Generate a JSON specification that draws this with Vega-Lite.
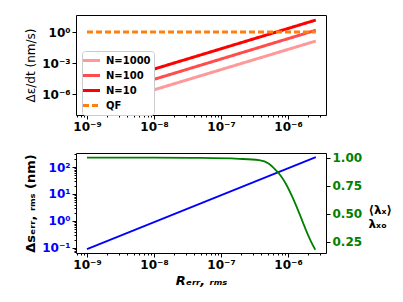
{
  "$schema": "https://vega.github.io/schema/vega-lite/v6.json",
  "background": "white",
  "padding": {"left": 24, "top": 14, "right": 5, "bottom": 5},
  "spacing": 18,
  "config": {
    "font": "DejaVu Sans",
    "view": {"stroke": "black", "strokeWidth": 1},
    "axis": {
      "grid": false,
      "domain": false,
      "tickColor": "black",
      "labelFont": "DejaVu Sans",
      "labelFontWeight": "bold",
      "labelFontSize": 12,
      "labelColor": "black",
      "titleFont": "DejaVu Sans",
      "titleColor": "black"
    }
  },
  "vconcat": [
    {
      "width": 250,
      "height": 100,
      "data": {
        "values": [
          {"r": 1e-9, "v": 2.8e-8, "series": "N=1000"},
          {"r": 2.6e-6, "v": 0.135, "series": "N=1000"},
          {"r": 1e-9, "v": 2.8e-7, "series": "N=100"},
          {"r": 2.6e-6, "v": 1.5, "series": "N=100"},
          {"r": 1e-9, "v": 2.8e-6, "series": "N=10"},
          {"r": 2.6e-6, "v": 14.5, "series": "N=10"},
          {"r": 1e-9, "v": 1, "series": "QF"},
          {"r": 2.6e-6, "v": 1, "series": "QF"}
        ]
      },
      "mark": {"type": "line", "clip": true},
      "encoding": {
        "x": {
          "field": "r", "type": "quantitative",
          "scale": {"type": "log", "domain": [6.85e-10, 3.69e-6], "nice": false},
          "axis": {
            "title": null,
            "values": [7e-10, 8e-10, 9e-10, 1e-9, 2e-9, 3e-9, 4e-9, 5e-9, 6e-9, 7e-9, 8e-9, 9e-9, 1e-8, 2e-8, 3e-8, 4e-8, 5e-8, 6e-8, 7e-8, 8e-8, 9e-8, 1e-7, 2e-7, 3e-7, 4e-7, 5e-7, 6e-7, 7e-7, 8e-7, 9e-7, 1e-6, 2e-6, 3e-6],
            "tickSize": {"condition": {"test": "abs(log(datum.value)/LN10 - round(log(datum.value)/LN10)) < 0.001", "value": 4}, "value": 2},
            "labelExpr": "abs(log(datum.value)/LN10 - round(log(datum.value)/LN10)) < 0.001 ? '10' + replace(replace(replace(replace(replace(replace(replace(replace(replace(replace(replace('' + round(log(datum.value)/LN10), '-', '⁻'), '0', '⁰'), '1', '¹'), '2', '²'), '3', '³'), '4', '⁴'), '5', '⁵'), '6', '⁶'), '7', '⁷'), '8', '⁸'), '9', '⁹') : ''"
          }
        },
        "y": {
          "field": "v", "type": "quantitative",
          "scale": {"type": "log", "domain": [9.3e-9, 44.7], "nice": false},
          "axis": {
            "values": [1e-6, 1e-3, 1],
            "tickSize": 4,
            "title": "Δε/dt (nm/s)",
            "titleFontSize": 12,
            "titleFontWeight": "normal",
            "labelExpr": "'10' + replace(replace(replace(replace(replace(replace(replace(replace(replace(replace(replace('' + round(log(datum.value)/LN10), '-', '⁻'), '0', '⁰'), '1', '¹'), '2', '²'), '3', '³'), '4', '⁴'), '5', '⁵'), '6', '⁶'), '7', '⁷'), '8', '⁸'), '9', '⁹')"
          }
        },
        "color": {
          "field": "series", "type": "nominal",
          "scale": {"domain": ["N=1000", "N=100", "N=10", "QF"], "range": ["#ff9999", "#ff4d4d", "#ff0000", "#ff7f0e"]},
          "legend": {
            "title": null, "orient": "none", "legendX": 6, "legendY": 36,
            "symbolType": "M-1.7,0H1.7", "symbolSize": 100, "labelFontWeight": "bold", "labelFontSize": 10,
            "labelOffset": 8,
            "fillColor": "white", "strokeColor": "#cccccc", "padding": 3, "cornerRadius": 3, "rowPadding": 2
          }
        },
        "strokeDash": {
          "field": "series", "type": "nominal",
          "scale": {"domain": ["N=1000", "N=100", "N=10", "QF"], "range": [[1, 0], [1, 0], [1, 0], [6, 3]]}
        },
        "strokeWidth": {
          "field": "series", "type": "nominal",
          "scale": {"domain": ["N=1000", "N=100", "N=10", "QF"], "range": [3, 3, 3, 2]}
        }
      }
    },
    {
      "width": 250,
      "height": 100,
      "layer": [
        {
          "data": {"values": [{"r": 1e-9, "s": 0.09}, {"r": 2.6e-6, "s": 234}]},
          "mark": {"type": "line", "color": "#0000ff", "strokeWidth": 1.8},
          "encoding": {
            "x": {
              "field": "r", "type": "quantitative",
              "scale": {"type": "log", "domain": [6.85e-10, 3.69e-6], "nice": false},
              "axis": {
                "title": "Rₑᵣᵣ, ᵣₘₛ",
                "titleFontSize": 13, "titleFontWeight": "bold", "titleFontStyle": "italic",
                "values": [7e-10, 8e-10, 9e-10, 1e-9, 2e-9, 3e-9, 4e-9, 5e-9, 6e-9, 7e-9, 8e-9, 9e-9, 1e-8, 2e-8, 3e-8, 4e-8, 5e-8, 6e-8, 7e-8, 8e-8, 9e-8, 1e-7, 2e-7, 3e-7, 4e-7, 5e-7, 6e-7, 7e-7, 8e-7, 9e-7, 1e-6, 2e-6, 3e-6],
                "tickSize": {"condition": {"test": "abs(log(datum.value)/LN10 - round(log(datum.value)/LN10)) < 0.001", "value": 4}, "value": 2},
                "labelExpr": "abs(log(datum.value)/LN10 - round(log(datum.value)/LN10)) < 0.001 ? '10' + replace(replace(replace(replace(replace(replace(replace(replace(replace(replace(replace('' + round(log(datum.value)/LN10), '-', '⁻'), '0', '⁰'), '1', '¹'), '2', '²'), '3', '³'), '4', '⁴'), '5', '⁵'), '6', '⁶'), '7', '⁷'), '8', '⁸'), '9', '⁹') : ''"
              }
            },
            "y": {
              "field": "s", "type": "quantitative",
              "scale": {"type": "log", "domain": [0.065, 331], "nice": false},
              "axis": {
                "orient": "left",
                "labelColor": "#0000ff",
                "title": "Δsₑᵣᵣ, ᵣₘₛ (nm)",
                "titleFontSize": 13, "titleFontWeight": "bold",
                "values": [0.07, 0.08, 0.09, 0.1, 0.2, 0.3, 0.4, 0.5, 0.6, 0.7, 0.8, 0.9, 1, 2, 3, 4, 5, 6, 7, 8, 9, 10, 20, 30, 40, 50, 60, 70, 80, 90, 100, 200, 300],
                "tickSize": {"condition": {"test": "abs(log(datum.value)/LN10 - round(log(datum.value)/LN10)) < 0.001", "value": 4}, "value": 2},
                "labelExpr": "abs(log(datum.value)/LN10 - round(log(datum.value)/LN10)) < 0.001 ? '10' + replace(replace(replace(replace(replace(replace(replace(replace(replace(replace(replace('' + round(log(datum.value)/LN10), '-', '⁻'), '0', '⁰'), '1', '¹'), '2', '²'), '3', '³'), '4', '⁴'), '5', '⁵'), '6', '⁶'), '7', '⁷'), '8', '⁸'), '9', '⁹') : ''"
              }
            }
          }
        },
        {
          "data": {
            "values": [
              {"r": 1e-9, "lam": 1.0},
              {"r": 1e-8, "lam": 1.0},
              {"r": 5e-8, "lam": 0.998},
              {"r": 1.86e-7, "lam": 0.99},
              {"r": 3.69e-7, "lam": 0.978},
              {"r": 5.2e-7, "lam": 0.946},
              {"r": 6.55e-7, "lam": 0.89},
              {"r": 7.78e-7, "lam": 0.84},
              {"r": 9.24e-7, "lam": 0.77},
              {"r": 1.16e-6, "lam": 0.65},
              {"r": 1.46e-6, "lam": 0.51},
              {"r": 1.84e-6, "lam": 0.36},
              {"r": 2.18e-6, "lam": 0.26},
              {"r": 2.55e-6, "lam": 0.18}
            ]
          },
          "mark": {"type": "line", "color": "#008000", "strokeWidth": 1.8, "interpolate": "monotone"},
          "encoding": {
            "x": {"field": "r", "type": "quantitative"},
            "y": {
              "field": "lam", "type": "quantitative",
              "scale": {"type": "linear", "domain": [0.151, 1.042], "nice": false, "zero": false},
              "axis": {
                "orient": "right",
                "values": [0.25, 0.5, 0.75, 1.0],
                "format": ".2f",
                "tickSize": 4,
                "labelColor": "#008000",
                "title": ["⟨λₓ⟩", "λₓₒ"],
                "titleAngle": 0,
                "titleAlign": "left",
                "titleBaseline": "middle",
                "titleX": 42,
                "titleY": 56,
                "titleFontSize": 12,
                "titleFontWeight": "bold"
              }
            }
          }
        }
      ],
      "resolve": {"scale": {"y": "independent"}}
    }
  ]
}
